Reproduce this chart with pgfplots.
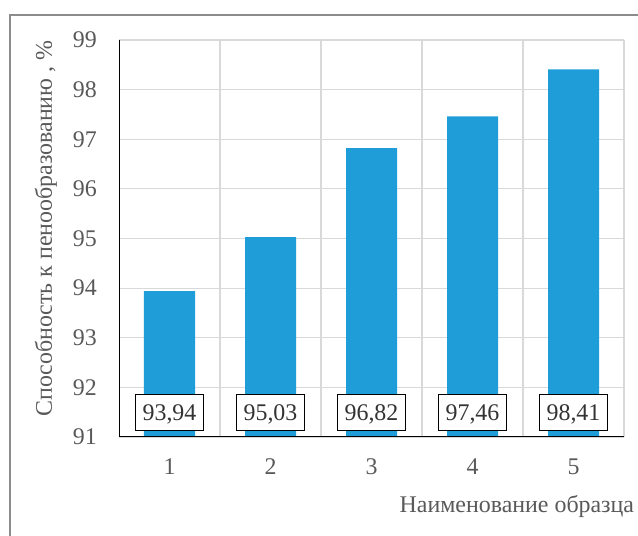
\documentclass[border=0pt]{standalone}
\usepackage{pgfplots}
\pgfplotsset{compat=1.18}
\usepackage{fontspec}
\setmainfont{Liberation Serif}
\definecolor{barblue}{RGB}{30,157,216}
\definecolor{txtgray}{RGB}{89,89,89}
\definecolor{gridgray}{RGB}{217,217,217}
\definecolor{framegray}{RGB}{140,140,140}
\begin{document}
\begin{tikzpicture}
\useasboundingbox (0,0) rectangle (638bp,536bp);
% chart frame, running off the right and bottom edges
\draw[framegray, line width=1.2bp] (10bp,-20bp) -- (10bp,521bp) -- (660bp,521bp);
\begin{axis}[
  scale only axis,
  width=505bp, height=397bp,
  at={(119bp,99bp)}, anchor=south west,
  xmin=0.5, xmax=5.5, ymin=91, ymax=99,
  xtick={1,2,3,4,5},
  minor xtick={1.5,2.5,3.5,4.5,5.5},
  ytick={91,92,...,99},
  major tick length=0pt, minor tick length=0pt,
  ymajorgrids, xminorgrids,
  grid style={gridgray, line width=1.2bp},
  minor grid style={gridgray, line width=1.2bp},
  axis line style={draw=none},
  font=\fontsize{24}{28}\selectfont,
  tick label style={txtgray},
  /pgf/number format/assume math mode=true,
  yticklabel style={anchor=east, inner sep=0pt, xshift=-22bp},
  xticklabel style={anchor=center, inner sep=0pt, yshift=-30bp},
  xlabel={Наименование образца},
  ylabel={Способность к пенообразованию , \%},
  every axis x label/.style={at={(axis description cs:1.027,-0.176)}, anchor=east, txtgray},
  every axis y label/.style={at={(axis description cs:-0.145,0.525)}, anchor=center, rotate=90, txtgray},
  ybar, bar width=51bp,
  visualization depends on={y \as \rawy},
  nodes near coords={\pgfmathprintnumber[fixed, fixed zerofill, precision=2, use comma]{\pgfplotspointmeta}},
  nodes near coords style={draw=black, line width=0.9bp, fill=white, text=black!80,
    anchor=center, inner xsep=7bp, minimum height=36bp, text depth=0pt,
    font=\fontsize{24}{28}\selectfont,
    yshift={-(\rawy-91.5)*49.625bp}},
]
\addplot[fill=barblue, draw=none] coordinates {(1,93.94) (2,95.03) (3,96.82) (4,97.46) (5,98.41)};
\draw[black, line width=1.4bp] (axis cs:0.5,99) -- (axis cs:0.5,91) -- (axis cs:5.5,91);
\end{axis}
\end{tikzpicture}
\end{document}
